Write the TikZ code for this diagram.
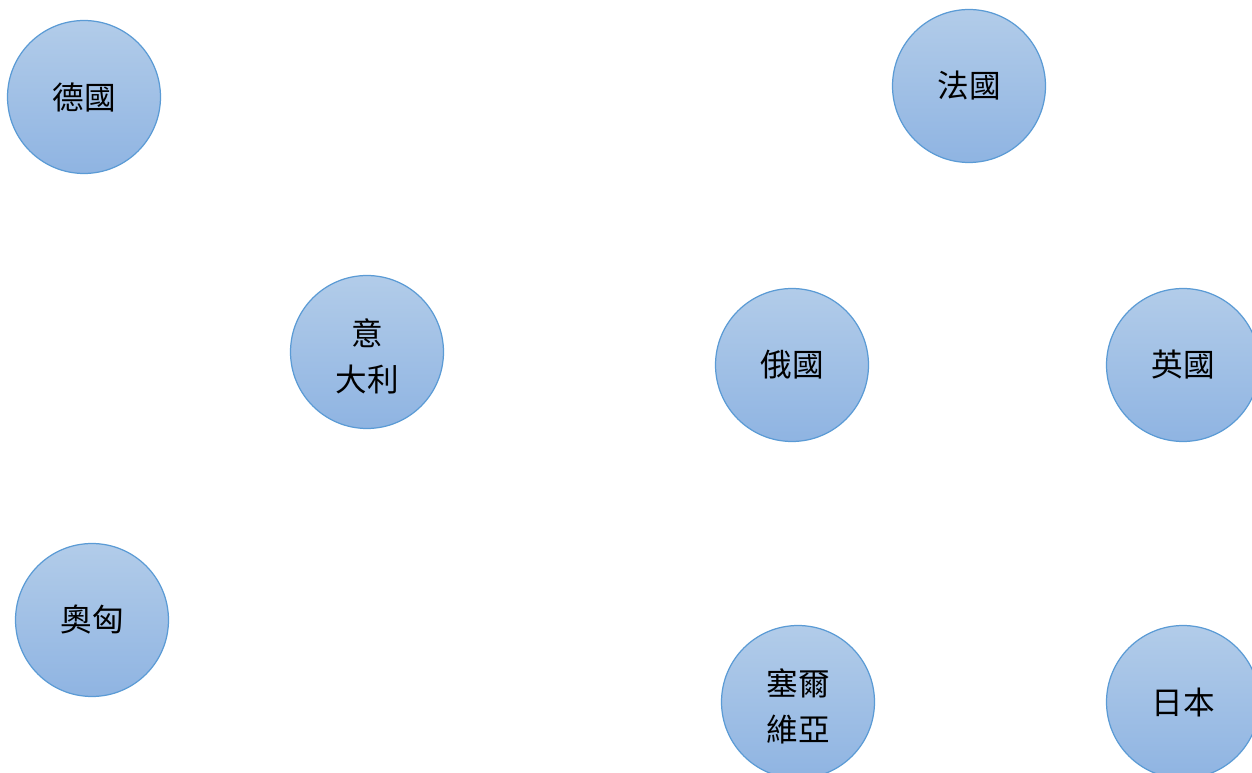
\documentclass[tikz,border=0pt]{standalone}
\usepackage{fontspec}
\newfontfamily\cjk{Noto Sans CJK TC}
\definecolor{ctop}{HTML}{B2CCE9}
\definecolor{cbot}{HTML}{8FB4E2}
\definecolor{cline}{HTML}{5B9BD5}
\begin{document}
\begin{tikzpicture}[x=0.02cm,y=-0.02cm,
  country/.style n args={2}{circle,draw=cline,line width=0.7pt,top color=ctop,bottom color=cbot,
    minimum size=3.06cm,inner sep=0pt,
    label={[align=center,yshift=#2,inner sep=0pt,
      font=\cjk\fontsize{18pt}{26.5pt}\selectfont,text=black]center:#1}}]
\useasboundingbox (0,0) rectangle (1252,773);
\clip (0,0) rectangle (1252,773);
\node[country={德國}{0cm}] (de) at (84,97) {};
\node[country={法國}{0cm}] (fr) at (969,86) {};
\node[country={意\\大利}{-0.09cm}] (it) at (367,352) {};
\node[country={俄國}{0cm}] (ru) at (792,365) {};
\node[country={英國}{0cm}] (uk) at (1183,365) {};
\node[country={奧匈}{0cm}] (ah) at (92,620) {};
\node[country={塞爾\\維亞}{-0.09cm}] (rs) at (798,702) {};
\node[country={日本}{0cm}] (jp) at (1183,702) {};
\end{tikzpicture}
\end{document}
